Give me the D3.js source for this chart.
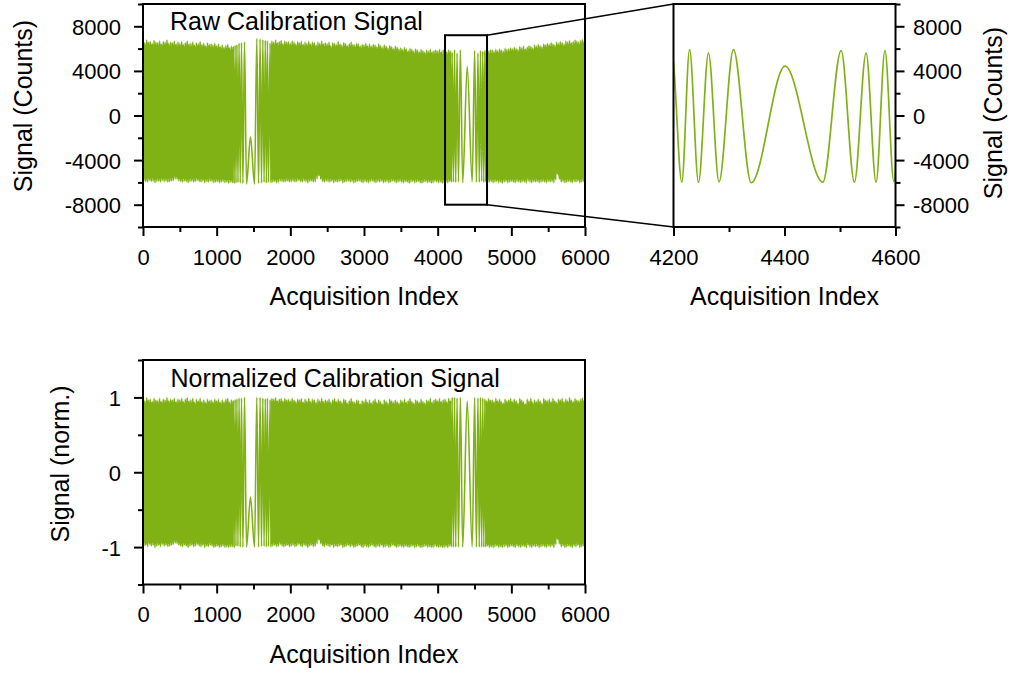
<!DOCTYPE html>
<html>
<head>
<meta charset="utf-8">
<script src="https://cdn.jsdelivr.net/npm/d3@7"></script>
<style>
  body { margin: 0; background: #fff; }
  text { font-family: "Liberation Sans", Arial, sans-serif; fill: #000; }
</style>
</head>
<body>
<svg id="chart" width="1013" height="673"></svg>
<script>
// ---------------- DATA ----------------
// Dense part of the signal: envelope extrema,
// one maximum every 25 indices (minimum offset by half a step), in three stretches.
const denseStart = [0, 1725, 4640];
const denseStep = 25;

const rawUpper = [
  [6700,6550,6800,6600,6650,6500,6750,6600,6550,6700,6450,6650,6600,6800,6500,6600,6550,6700,6450,6600,
   6500,6650,6400,6550,6700,6450,6500,6600,6350,6550,6450,6650,6400,6500,6300,6550,6400,6450,6350,6500,
   6300,6450,6200,6350,6150,6300,6400,6100,6250,6200],
  [6500,6700,6600,6800,6550,6650,6750,6500,6700,6600,6650,
   6500,6700,6600,6450,6650,6550,6700,6400,6600,6500,6650,6450,6600,6550,6350,6600,6500,6700,6450,6550,
   6450,6600,6300,6550,6500,6400,6650,6450,6350,6550,6500,6300,6450,6600,6400,6350,6500,6450,6250,6400,
   6350,6500,6300,6450,6250,6400,6350,6200,6450,6300,6150,6350,6250,6100,6300,6200,6050,6250,6150,6000,
   6100,5950,6150,6000,5850,6050,5950,5800,6000,5900,5750,5950,5850,5700,5900,5800,5950,5750,5850,5900,
   5800,5950,5750,5900,5850,5750,5900,5800],
  [5850,5950,5800,5900,5900,5800,5950,5850,6000,5900,5800,6050,5950,6000,6100,
   6000,6150,6050,5950,6200,6100,6250,6000,6150,6300,6200,6100,6350,6250,6400,6300,6200,6450,6350,6500,
   6400,6550,6450,6350,6600,6500,6650,6550,6450,6700,6600,6750,6550,6650,6800,6700,6600,6750,6850,6700,
   6750]
];
const rawLower = [
  [-5900,-5950,-6000,-5850,-5950,-5900,-6050,-5950,-5900,-6000,-5850,-5950,-5900,-6000,-5950,-5900,-5850,-5700,-5750,-5900,
   -5950,-6000,-5900,-5950,-6050,-5950,-5900,-6000,-5950,-5850,-5950,-6000,-5900,-6050,-5950,-6000,-5900,-5950,-6050,-6000,
   -5950,-6050,-6000,-5950,-6050,-6000,-6100,-6000,-6050,-6100],
  [-6050,-6000,-5950,-6050,-6000,-5900,-5950,-6000,-5950,-5900,-6000,
   -5950,-5900,-6000,-5950,-5850,-5950,-6000,-5900,-5950,-6050,-5950,-5900,-6000,-5950,-5700,-5450,-5750,-5950,-6000,-5900,
   -5950,-6000,-5900,-6050,-5950,-6000,-5950,-5900,-6050,-6000,-5950,-5900,-6000,-5950,-6050,-6000,-5950,-5900,-6000,-6050,
   -5950,-6000,-6050,-5950,-5900,-6000,-6050,-5950,-6000,-5900,-6050,-6000,-5950,-6050,-6000,-5900,-5950,-6050,-6000,-5950,
   -6000,-6050,-5950,-6000,-6100,-6000,-5950,-6050,-6000,-5950,-6050,-6100,-6000,-5950,-6050,-6000,-6100,-6050,-5950,-6000,
   -6050,-6000,-6100,-6050,-6000,-6050,-5950,-6000],
  [-5950,-6050,-6000,-5950,-6050,-6000,-5950,-6050,-6000,-6100,-6000,-5950,-6050,-6000,-5950,
   -6000,-6050,-5950,-6000,-6050,-5950,-6000,-6050,-5900,-6000,-6050,-5950,-6000,-5950,-6050,-6000,-5950,-6000,-6050,-5950,
   -6000,-5950,-6050,-5800,-5300,-5750,-6000,-5950,-6050,-6000,-5950,-6000,-6050,-5950,-6000,-5900,-6050,-6000,-5950,-6000,
   -5950]
];
// Slow part around the two turning points: individual extrema [index, counts]
const rawTurn1 = [[1250,6300],[1262,-6050],[1275,6350],[1289,-6000],[1304,6500],[1320,-6050],[1337,6550],[1356,-6100],
  [1378,6600],[1405,-6150],[1459,-1900],[1514,-6150],[1545,6900],[1569,-6100],[1590,6850],[1609,-6050],[1627,6800],
  [1644,-6000],[1660,6750],[1675,-6050],[1689,6700],[1703,-6000]];
const rawTurn2 = [[4197,5650],[4215,-5970],[4229,5900],[4245,-6000],[4263,5600],[4282,-5950],[4308,5900],[4340,-6030],
  [4401,4420],[4469,-5970],[4502,5820],[4526,-5980],[4547,5600],[4565,-5980],[4581,5820],[4597,-5900],[4612,5750],
  [4626,-6000]];

const normUpper = [
  [0.99,0.96,1.00,0.97,0.98,0.95,0.99,0.97,0.96,0.99,0.95,0.98,0.97,1.00,0.96,0.98,0.97,0.99,0.95,0.98,
   0.97,0.99,0.95,0.98,1.00,0.96,0.97,0.99,0.94,0.98,0.96,0.99,0.95,0.97,0.94,0.98,0.96,0.97,0.95,0.98,
   0.96,0.98,0.94,0.97,0.95,0.98,0.99,0.94,0.97,0.96],
  [0.97,0.99,0.98,1.00,0.96,0.98,0.99,0.96,0.99,0.97,0.98,
   0.96,0.99,0.97,0.95,0.98,0.97,0.99,0.94,0.98,0.96,0.99,0.95,0.98,0.97,0.94,0.98,0.96,0.99,0.95,0.97,
   0.96,0.98,0.94,0.97,0.99,0.95,0.98,0.96,0.94,0.98,0.97,0.93,0.96,0.99,0.95,0.94,0.97,0.96,0.92,0.96,
   0.95,0.98,0.94,0.97,0.93,0.96,0.98,0.94,0.97,0.95,0.92,0.97,0.95,0.93,0.98,0.96,0.94,0.97,0.95,0.93,
   0.97,0.95,0.98,0.94,0.96,0.99,0.95,0.93,0.97,0.96,0.94,0.98,0.95,0.93,0.97,0.96,0.99,0.94,0.97,0.98,
   0.96,0.99,0.95,0.97,0.98,0.95,0.99,0.96],
  [0.98,0.96,0.99,0.97,0.97,0.95,0.99,0.96,0.98,0.95,0.93,0.98,0.96,0.97,0.99,
   0.95,0.98,0.96,0.93,0.99,0.97,0.95,0.92,0.98,0.96,0.99,0.94,0.97,0.95,0.98,0.96,0.93,0.99,0.97,0.96,
   0.98,0.95,0.99,0.96,0.94,0.98,0.97,0.99,0.95,0.98,0.96,1.00,0.97,0.95,0.99,0.97,0.96,0.98,1.00,0.97,
   0.98]
];
const normLower = [
  [-0.99,-0.98,-1.00,-0.97,-0.99,-0.98,-1.01,-0.99,-0.98,-1.00,-0.97,-0.99,-0.98,-1.00,-0.99,-0.98,-0.97,-0.95,-0.96,-0.98,
   -0.99,-1.00,-0.98,-0.99,-1.01,-0.99,-0.98,-1.00,-0.99,-0.97,-0.99,-1.00,-0.98,-1.01,-0.99,-1.00,-0.98,-0.99,-1.01,-1.00,
   -0.99,-1.01,-1.00,-0.99,-1.01,-1.00,-1.01,-1.00,-1.00,-1.01],
  [-1.00,-0.99,-0.98,-1.00,-0.99,-0.97,-0.99,-1.00,-0.99,-0.98,-1.00,
   -0.99,-0.98,-1.00,-0.99,-0.97,-0.99,-1.00,-0.98,-0.99,-1.01,-0.99,-0.98,-1.00,-0.99,-0.96,-0.91,-0.96,-0.99,-1.00,-0.98,
   -0.99,-1.00,-0.98,-1.01,-0.99,-1.00,-0.99,-0.98,-1.01,-1.00,-0.99,-0.98,-1.00,-0.99,-1.01,-1.00,-0.99,-0.98,-1.00,-1.01,
   -0.99,-1.00,-1.01,-0.99,-0.98,-1.00,-1.01,-0.99,-1.00,-0.98,-1.01,-1.00,-0.99,-1.01,-1.00,-0.98,-0.99,-1.01,-1.00,-0.99,
   -1.00,-1.01,-0.99,-1.00,-1.01,-1.00,-0.99,-1.01,-1.00,-0.99,-1.01,-1.01,-1.00,-0.99,-1.01,-1.00,-1.01,-1.01,-0.99,-1.00,
   -1.01,-1.00,-1.01,-1.01,-1.00,-1.01,-0.99,-1.00],
  [-1.00,-0.99,-1.01,-1.00,-1.01,-1.00,-0.99,-1.01,-1.00,-1.01,-1.00,-0.99,-1.01,-1.00,-0.99,
   -1.00,-1.01,-0.99,-1.00,-1.01,-0.99,-1.00,-1.01,-0.98,-1.00,-1.01,-0.99,-1.00,-0.99,-1.01,-1.00,-0.99,-1.00,-1.01,-0.99,
   -1.00,-0.99,-1.01,-0.97,-0.90,-0.96,-1.00,-0.99,-1.01,-1.00,-0.99,-1.00,-1.01,-0.99,-1.00,-0.98,-1.01,-1.00,-0.99,-1.00,
   -0.99]
];
const normTurn1 = [[1250,0.97],[1262,-0.99],[1275,0.98],[1289,-0.99],[1304,0.99],[1320,-1.0],[1337,0.99],[1356,-1.0],
  [1378,1.0],[1405,-1.0],[1459,-0.33],[1514,-1.0],[1545,1.0],[1569,-1.0],[1590,1.0],[1609,-0.99],[1627,0.99],
  [1644,-0.99],[1660,0.98],[1675,-1.0],[1689,0.99],[1703,-0.99]];
const normTurn2 = [[4197,1.0],[4215,-1.0],[4229,1.0],[4245,-1.0],[4263,0.99],[4282,-1.0],[4308,1.0],[4340,-1.0],
  [4401,0.95],[4469,-1.0],[4502,1.0],[4526,-1.0],[4547,0.99],[4565,-1.0],[4581,1.0],[4597,-1.0],[4612,0.99],
  [4626,-1.0]];

// Axis ticks / labels
const xDomain = [0, 6000];
const xTicks = [0, 1000, 2000, 3000, 4000, 5000, 6000];
const xMinor = [500, 1500, 2500, 3500, 4500, 5500];
const zoomDomain = [4200, 4600];
const zoomTicks = [4200, 4400, 4600];
const zoomMinor = [4300, 4500];
const rawYDomain = [-10000, 10000];
const rawYTicks = [-8000, -4000, 0, 4000, 8000];
const rawYMinor = [-10000, -6000, -2000, 2000, 6000, 10000];
const normYDomain = [-1.5, 1.5];
const normYTicks = [-1, 0, 1];
const normYMinor = [-1.5, -0.5, 0.5, 1.5];
const zoomBoxX = [4100, 4670];
const zoomBoxY = [-8000, 7200];

const titles = {
  raw: "Raw Calibration Signal",
  norm: "Normalized Calibration Signal",
  x: "Acquisition Index",
  yRaw: "Signal (Counts)",
  yNorm: "Signal (norm.)"
};

// ---------------- DRAW ----------------
const COLOR = "#80b216";
const svg = d3.select("#chart");

function buildSignal(upperSegs, lowerSegs, turns) {
  const pts = [];
  upperSegs.forEach((seg, s) => seg.forEach((v, i) => pts.push([denseStart[s] + i * denseStep, v])));
  lowerSegs.forEach((seg, s) => seg.forEach((v, i) => pts.push([denseStart[s] + i * denseStep + denseStep / 2, v])));
  turns.forEach(t => t.forEach(p => pts.push(p)));
  return pts.sort((a, b) => a[0] - b[0]);
}
// band (envelope) of each dense stretch, used to fill the solid part
function buildBands(upperSegs, lowerSegs) {
  return upperSegs.map((seg, s) => seg.map((v, i) => ({
    idx: denseStart[s] + i * denseStep + denseStep / 4,
    hi: v,
    lo: lowerSegs[s][Math.min(i, lowerSegs[s].length - 1)]
  })));
}
const rawSignal = buildSignal(rawUpper, rawLower, [rawTurn1, rawTurn2]);
const normSignal = buildSignal(normUpper, normLower, [normTurn1, normTurn2]);
const rawBands = buildBands(rawUpper, rawLower);
const normBands = buildBands(normUpper, normLower);

const P1 = { x0: 143, x1: 585, y0: 4, y1: 227 };
const P2 = { x0: 673.5, x1: 895.5, y0: 4, y1: 227 };
const P3 = { x0: 143, x1: 585, y0: 360, y1: 584.5 };

const x1 = d3.scaleLinear().domain(xDomain).range([P1.x0, P1.x1]);
const y1 = d3.scaleLinear().domain(rawYDomain).range([P1.y1, P1.y0]);
const x2 = d3.scaleLinear().domain(zoomDomain).range([P2.x0, P2.x1]);
const y2 = d3.scaleLinear().domain(rawYDomain).range([P2.y1, P2.y0]);
const x3 = d3.scaleLinear().domain(xDomain).range([P3.x0, P3.x1]);
const y3 = d3.scaleLinear().domain(normYDomain).range([P3.y1, P3.y0]);

const defs = svg.append("defs");
function clip(id, P) {
  defs.append("clipPath").attr("id", id).append("rect")
    .attr("x", P.x0).attr("y", P.y0).attr("width", P.x1 - P.x0).attr("height", P.y1 - P.y0);
}
clip("c1", P1); clip("c2", P2); clip("c3", P3);

function drawBands(bands, xs, ys, clipId) {
  const shrink = (ys.domain()[1] - ys.domain()[0]) * 0.012;
  const area = d3.area().x(d => xs(d.idx)).y0(d => ys(d.lo + shrink)).y1(d => ys(d.hi - shrink));
  bands.forEach(b => svg.append("path").attr("clip-path", `url(#${clipId})`)
    .attr("d", area(b)).attr("fill", COLOR).attr("stroke", "none"));
}
function drawSignal(data, xs, ys, clipId, w) {
  const line = d3.line().x(d => xs(d[0])).y(d => ys(d[1])).curve(d3.curveMonotoneX);
  svg.append("path").attr("clip-path", `url(#${clipId})`)
    .attr("d", line(data)).attr("fill", "none").attr("stroke", COLOR)
    .attr("stroke-width", w).attr("stroke-linejoin", "round");
}
drawBands(rawBands, x1, y1, "c1");
drawSignal(rawSignal, x1, y1, "c1", 1.6);
drawSignal(rawSignal, x2, y2, "c2", 1.7);
drawBands(normBands, x3, y3, "c3");
drawSignal(normSignal, x3, y3, "c3", 1.6);

function styleAxis(g) {
  g.attr("font-size", null).attr("font-family", null);
  g.select(".domain").remove();
  g.selectAll(".tick line").attr("stroke", "#000").attr("stroke-width", 2);
  g.selectAll(".tick text").attr("font-size", 22).attr("fill", "#000");
  return g;
}
const fmt = d => String(d);

function xAxis(xs, P, ticks, minor) {
  const gm = svg.append("g").attr("transform", `translate(0,${P.y1})`)
    .call(d3.axisBottom(xs).tickValues(minor).tickSize(5).tickFormat(""));
  styleAxis(gm);
  const g = svg.append("g").attr("transform", `translate(0,${P.y1})`)
    .call(d3.axisBottom(xs).tickValues(ticks).tickSize(9).tickFormat(fmt));
  styleAxis(g);
  g.selectAll(".tick text").attr("y", 37.5).attr("dy", null);
}
function yAxisLeft(ys, P, ticks, minor) {
  const gm = svg.append("g").attr("transform", `translate(${P.x0},0)`)
    .call(d3.axisLeft(ys).tickValues(minor).tickSize(5).tickFormat(""));
  styleAxis(gm);
  const g = svg.append("g").attr("transform", `translate(${P.x0},0)`)
    .call(d3.axisLeft(ys).tickValues(ticks).tickSize(9).tickFormat(fmt));
  styleAxis(g);
  g.selectAll(".tick text").attr("x", -22).attr("dy", "0.36em");
}
function yAxisRight(ys, P, ticks, minor) {
  const gm = svg.append("g").attr("transform", `translate(${P.x1},0)`)
    .call(d3.axisRight(ys).tickValues(minor).tickSize(5).tickFormat(""));
  styleAxis(gm);
  const g = svg.append("g").attr("transform", `translate(${P.x1},0)`)
    .call(d3.axisRight(ys).tickValues(ticks).tickSize(9).tickFormat(fmt));
  styleAxis(g);
  g.selectAll(".tick text").attr("x", 17.5).attr("dy", "0.36em");
}

function frame(P) {
  svg.append("rect").attr("x", P.x0).attr("y", P.y0)
    .attr("width", P.x1 - P.x0).attr("height", P.y1 - P.y0)
    .attr("fill", "none").attr("stroke", "#000").attr("stroke-width", 2);
}

// zoom box + connectors
const bx0 = x1(zoomBoxX[0]), bx1 = x1(zoomBoxX[1]);
const by0 = y1(zoomBoxY[1]), by1 = y1(zoomBoxY[0]);
svg.append("rect").attr("x", bx0).attr("y", by0).attr("width", bx1 - bx0).attr("height", by1 - by0)
  .attr("fill", "none").attr("stroke", "#000").attr("stroke-width", 2);
svg.append("line").attr("x1", bx1).attr("y1", by0).attr("x2", P2.x0).attr("y2", P2.y0)
  .attr("stroke", "#000").attr("stroke-width", 1.6);
svg.append("line").attr("x1", bx1).attr("y1", by1).attr("x2", P2.x0).attr("y2", P2.y1)
  .attr("stroke", "#000").attr("stroke-width", 1.6);

frame(P1); frame(P2); frame(P3);
xAxis(x1, P1, xTicks, xMinor);
yAxisLeft(y1, P1, rawYTicks, rawYMinor);
xAxis(x2, P2, zoomTicks, zoomMinor);
yAxisRight(y2, P2, rawYTicks, rawYMinor);
xAxis(x3, P3, xTicks, xMinor);
yAxisLeft(y3, P3, normYTicks, normYMinor);

// titles
function txt(s, x, y, opts = {}) {
  const t = svg.append("text").attr("x", x).attr("y", y).attr("font-size", opts.size || 25).text(s);
  if (opts.anchor) t.attr("text-anchor", opts.anchor);
  if (opts.rotate) t.attr("transform", `rotate(-90,${x},${y})`).attr("dominant-baseline", "central");
  return t;
}
txt(titles.raw, 170, 30);
txt(titles.norm, 170.5, 386.5);
txt(titles.x, (P1.x0 + P1.x1) / 2, 305, { anchor: "middle" });
txt(titles.x, (P2.x0 + P2.x1) / 2, 305, { anchor: "middle" });
txt(titles.x, (P3.x0 + P3.x1) / 2, 663, { anchor: "middle" });
txt(titles.yRaw, 23, 106, { anchor: "middle", rotate: true });
txt(titles.yRaw, 993, 113, { anchor: "middle", rotate: true });
txt(titles.yNorm, 60, 464, { anchor: "middle", rotate: true });
</script>
</body>
</html>
